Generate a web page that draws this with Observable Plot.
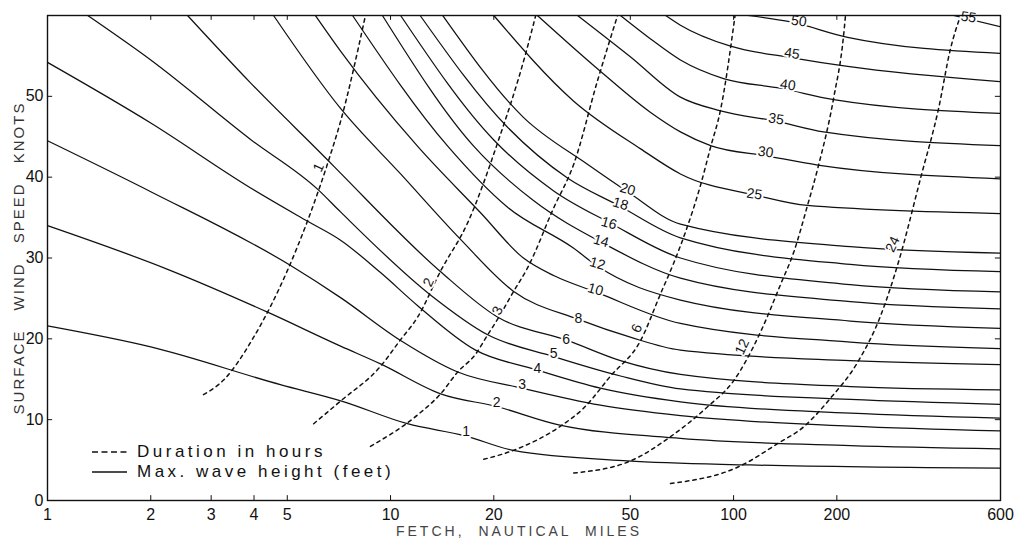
<!DOCTYPE html>
<html>
<head>
<meta charset="utf-8">
<script src="https://cdn.jsdelivr.net/npm/d3@7"></script>
<script src="https://cdn.jsdelivr.net/npm/@observablehq/plot@0.6"></script>
<style>
  body { margin: 0; background: #fff; }
  #wrap { position: relative; width: 1022px; height: 544px; font-family: "Liberation Sans", Arial, sans-serif; color: #111; }
  #wrap svg { display: block; }
  .ylab { position: absolute; left: 18px; top: 258px; transform: translate(-50%, -50%) rotate(-90deg);
          font-size: 15px; letter-spacing: 2px; word-spacing: 13px; white-space: nowrap; color: #333; }
  .xlab { position: absolute; left: 519px; top: 531px; transform: translate(-50%, -50%);
          font-size: 14px; letter-spacing: 3px; word-spacing: 7px; white-space: nowrap; color: #444; }
  .key { position: absolute; left: 92px; display: flex; align-items: center; font-size: 17px; letter-spacing: 3.5px; white-space: nowrap; }
  .key svg { margin-right: 10px; }
</style>
</head>
<body>
<div id="wrap">
  <div class="ylab">SURFACE WIND SPEED KNOTS</div>
  <div class="xlab">FETCH, NAUTICAL MILES</div>
  <div class="key" style="top:442px"><svg width="35" height="4"><line x1="0" y1="2" x2="35" y2="2" stroke="#111" stroke-width="1.3" stroke-dasharray="6,3.5"/></svg>Duration in hours</div>
  <div class="key" style="top:462px"><svg width="35" height="4"><line x1="0" y1="2" x2="35" y2="2" stroke="#111" stroke-width="1.3"/></svg>Max. wave height (feet)</div>
</div>
<script>
// Axis ticks
const fetchTicks = [1, 2, 3, 4, 5, 10, 20, 50, 100, 200, 600];
const speedTicks = [0, 10, 20, 30, 40, 50];

// Maximum wave height curves: [fetch (nautical miles), wind speed (knots)]
const h1  = [[1, 21.6], [2, 19.0], [4.8, 14.3], [7.2, 12.3], [11.2, 9.5], [16.5, 8.0], [22.8, 6.2], [49, 4.9], [112, 4.4], [600, 4.0]];
const h2  = [[1, 34.0], [2.24, 28.6], [4.38, 23.3], [7.15, 19.1], [9.35, 16.9], [14, 13.2], [20.5, 11.6], [30.7, 9.4], [70, 7.7], [219, 6.8], [600, 6.4]];
const h3  = [[1, 44.5], [2, 38.2], [5.1, 29.1], [7.15, 25.1], [10.7, 19.8], [15.7, 15.9], [24.2, 13.9], [40.9, 11.8], [70, 10.5], [219, 9.2], [600, 8.6]];
const h4  = [[1, 54.2], [2, 46.7], [3.9, 38.7], [5.7, 34.6], [7.15, 32.2], [9.35, 28.2], [12, 24.1], [17.7, 18.6], [26.5, 16.2], [40.9, 13.9], [70, 12.2], [219, 10.8], [600, 10.2]];
const h5  = [[1.31, 60], [2, 54.5], [3.9, 44.7], [6.17, 38.4], [7.15, 35.7], [13.1, 25.4], [19.2, 20.5], [29.9, 17.8], [46.8, 15.4], [70, 13.8], [219, 12.5], [600, 11.9]];
const h6  = [[2.56, 60], [3.9, 51.7], [6.6, 42.0], [7.15, 40.5], [14, 28.3], [20.5, 22.7], [32.8, 19.8], [46.8, 17.3], [70, 15.6], [219, 14.1], [600, 13.7]];
const h8  = [[4.56, 60], [7.15, 48.5], [10.7, 40.4], [16, 32.3], [22.8, 25.9], [35.3, 22.4], [50, 20.2], [70, 18.6], [219, 17.3], [600, 16.8]];
const h10 = [[6.04, 60], [7.15, 55.6], [12, 43.8], [18.3, 35.6], [24.4, 30.0], [30, 27.8], [39.6, 25.8], [70, 21.9], [219, 19.6], [600, 18.8]];
const h12 = [[7.75, 60], [14.7, 43.8], [21.9, 36.3], [34.2, 31.2], [40.1, 29.0], [70, 24.8], [219, 22.2], [600, 21.3]];
const h14 = [[9.47, 60], [17.5, 43.8], [26.1, 37.1], [41.8, 31.8], [70, 27.5], [219, 24.6], [600, 23.7]];
const h16 = [[10.7, 60], [20, 44.6], [29.9, 38.3], [43.8, 34.3], [70, 30.0], [219, 26.7], [600, 25.8]];
const h18 = [[12.2, 60], [21.9, 46.2], [32.8, 39.9], [46.2, 36.5], [70, 32.5], [219, 29.2], [600, 28.3]];
const h20 = [[14.2, 60], [24.4, 47.4], [37.5, 41.6], [49.1, 38.2], [70, 34.2], [219, 31.4], [600, 30.6]];
const h25 = [[20, 60], [34.2, 49.4], [53.6, 43.5], [70, 40.4], [118, 37.7], [164, 36.5], [600, 35.5]];
const h30 = [[26.8, 60], [40.9, 53.1], [57.3, 48.0], [70, 45.6], [85.7, 43.9], [126, 42.6], [176, 41.5], [600, 39.8]];
const h35 = [[35.1, 60], [50, 54.9], [70, 49.9], [91.7, 48.2], [134, 46.9], [183, 45.6], [600, 43.9]];
const h40 = [[46.8, 60], [57.3, 57.1], [70, 54.5], [93.5, 52.2], [137, 51.0], [196, 49.6], [600, 47.9]];
const h45 = [[63.4, 60], [70, 58.8], [98, 56.2], [147, 54.8], [215, 53.7], [600, 51.8]];
const h50 = [[110, 60], [147, 59.2], [215, 57.3], [600, 55.3]];
const h55 = [[438, 60], [600, 58.6]];

const waveHeights = [1, 2, 3, 4, 5, 6, 8, 10, 12, 14, 16, 18, 20, 25, 30, 35, 40, 45, 50, 55];
const waveCurves = [h1, h2, h3, h4, h5, h6, h8, h10, h12, h14, h16, h18, h20, h25, h30, h35, h40, h45, h50, h55];
// where each height is written on its curve: [fetch, knots]
const waveLabelAt = [[16.6, 8.5], [20.4, 12.1], [24.2, 14.3], [26.8, 16.3], [29.9, 18.2], [32.5, 19.9], [35.3, 22.5],
  [39.6, 26.1], [40.1, 29.3], [41.1, 32.1], [43.3, 34.3], [46.8, 36.7], [49.1, 38.5],
  [115, 37.9], [124, 43.1], [133, 47.2], [144, 51.4], [148, 55.3], [155, 59.3], [484, 59.8]];

// Duration curves (hours): [fetch, knots]
const d1  = [[2.85, 13.1], [3.26, 14.9], [3.99, 20.2], [5.01, 28.5], [5.73, 34.6], [6.59, 42.0], [7.15, 46.9], [8.45, 60]];
const d2  = [[5.97, 9.5], [7.15, 12.3], [9.35, 16.6], [10.7, 19.9], [12, 22.7], [14, 28.4], [16.8, 34.4], [20.5, 44.2], [24.7, 55.1], [26.5, 60]];
const d3  = [[8.74, 6.7], [12, 10.6], [14, 13.2], [15.7, 15.9], [17.7, 18.1], [19.2, 20.5], [20.5, 22.4], [22.8, 25.8], [25.1, 28.8], [29.9, 36.2], [34.2, 41.6], [40.1, 51.9], [45.9, 60]];
const d6  = [[18.7, 5.1], [22.8, 6.2], [31.3, 9.2], [36.5, 11.4], [43.8, 15.4], [53.6, 19.8], [61.3, 25.6], [66.8, 29.3], [72.4, 33.2], [80.1, 39.0], [85.7, 43.7], [91.7, 48.4], [101, 60]];
const d12 = [[34.2, 3.4], [50.1, 4.9], [65.5, 7.9], [84, 11.6], [100, 14.8], [120, 20.9], [137, 26.7], [150, 30.8], [164, 36.4], [176, 41.1], [196, 49.9], [209, 57.3], [212, 60]];
const d24 = [[65.5, 2.1], [105, 4.3], [134, 7.0], [160, 9.1], [192, 12.7], [230, 17.1], [268, 22.8], [303, 29.6], [351, 39.9], [396, 48.5], [429, 55.9], [459, 60]];

const durationHours = [1, 2, 3, 6, 12, 24];
const durationCurves = [d1, d2, d3, d6, d12, d24];
const durationLabelAt = [[6.17, 41.2], [12.9, 27.0], [20.5, 23.5], [52.2, 21.3], [106, 19.0], [291, 31.7]];

// Flatten into tidy rows for Plot
const waveRows = waveCurves.flatMap((pts, i) => pts.map(([fetch, speed]) => ({h: waveHeights[i], fetch, speed})));
const durRows = durationCurves.flatMap((pts, i) => pts.map(([fetch, speed]) => ({d: durationHours[i], fetch, speed})));
const waveLabels = waveHeights.map((h, i) => ({h, fetch: waveLabelAt[i][0], speed: waveLabelAt[i][1]}));
const durLabels = durationHours.map((d, i) => ({d, fetch: durationLabelAt[i][0], speed: durationLabelAt[i][1]}));

const inner = speedTicks.filter(v => v > 0);
const innerFetch = fetchTicks.slice(1, -1);

const chart = Plot.plot({
  width: 1022,
  height: 544,
  marginLeft: 47,
  marginRight: 22,
  marginTop: 15,
  marginBottom: 44,
  style: {fontFamily: "Liberation Sans, Arial, sans-serif", background: "transparent", color: "#111"},
  x: {type: "log", domain: [1, 600], axis: null},
  y: {domain: [0, 60]},
  marks: [
    // fetch tick labels under the frame
    Plot.text(fetchTicks, {x: d => d, text: d => String(d), frameAnchor: "bottom", dy: 19, fontSize: 16, fill: "#111"}),
    Plot.axisY({ticks: speedTicks, tickSize: 0, tickPadding: 4, fontSize: 16, label: null}),
    // short inward ticks on all four sides
    Plot.ruleY(inner, {y: d => d, x1: 1, x2: 1.035, stroke: "#111"}),
    Plot.ruleY(inner, {y: d => d, x1: 600 / 1.035, x2: 600, stroke: "#111"}),
    Plot.ruleX(innerFetch, {x: d => d, y1: 0, y2: 0.6, stroke: "#111"}),
    Plot.ruleX(innerFetch, {x: d => d, y1: 59.4, y2: 60, stroke: "#111"}),
    // wave height curves
    Plot.line(waveRows, {x: "fetch", y: "speed", z: "h", curve: "monotone-x", stroke: "#111", strokeWidth: 1.25, clip: true}),
    // duration curves
    Plot.line(durRows, {x: "fetch", y: "speed", z: "d", curve: "monotone-x", stroke: "#111", strokeWidth: 1.5, strokeDasharray: "3.5,4", clip: true}),
    // curve labels
    Plot.text(waveLabels, {
      x: "fetch", y: "speed", text: d => String(d.h),
      rotate: d => d.h >= 25 ? 8 : d.h >= 10 ? 16 : 0,
      fontSize: 14, fontStyle: d => d.h >= 12 ? "italic" : "normal",
      fill: "#111", stroke: "white", strokeWidth: 4
    }),
    Plot.text(durLabels, {
      x: "fetch", y: "speed", text: d => String(d.d), rotate: -65,
      fontSize: 14, fill: "#111", stroke: "white", strokeWidth: 3
    }),
    Plot.frame({stroke: "#111", strokeWidth: 1.4})
  ]
});

document.getElementById("wrap").prepend(chart);
</script>
</body>
</html>
